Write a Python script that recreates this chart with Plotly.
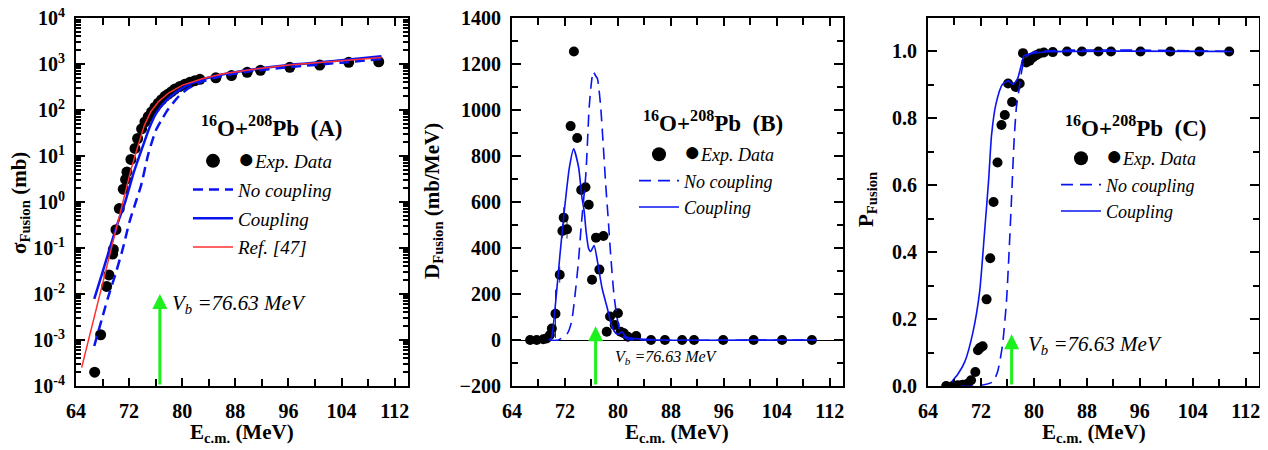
import numpy as np
import plotly.graph_objects as go

# ---------------- data ----------------
Vb = 76.63

# Panel A: fusion cross section (mb)
E_exp_A = [66.81, 67.71, 68.61, 68.96, 69.52, 69.62, 70.02, 70.52, 71.12, 71.47, 71.67,
           72.27, 72.88, 73.28, 73.88, 74.38, 74.88, 75.38, 75.89, 76.39, 76.89, 77.39,
           77.89, 78.39, 78.89, 79.65, 80.40, 81.15, 81.90, 82.66, 85.06, 87.42, 89.78,
           91.78, 96.20, 100.71, 105.07, 109.59]
sig_exp_A = [2.0e-4, 1.3e-3, 0.0146, 0.026, 0.074, 0.093, 0.25, 0.72, 1.9, 3.1, 4.5,
             8.4, 14.6, 24, 39, 55, 72, 91, 115, 141, 167, 198,
             222, 250, 285, 326, 365, 400, 435, 465, 500, 560, 660,
             727, 845, 950, 1085, 1120]

E_nc_A = [66.75, 68.76, 70.02, 71.02, 72.02, 73.0, 73.78, 74.9, 76.0, 77.0, 77.8,
          79.5, 81.0, 82.7, 85.2, 90.0, 96.0, 104.0, 110.0]
sig_nc_A = [7.4e-4, 7.8e-3, 0.0295, 0.093, 0.355, 1.0, 2.24, 11.2, 35.5, 65, 100,
            200, 300, 400, 513, 690, 850, 1070, 1290]

E_c_A = [66.75, 68.0, 69.0, 70.2, 71.4, 72.78, 74.03, 75.03, 76.04, 77.54, 79.04,
         80.55, 83.0, 86.0, 90.0, 96.0, 104.0, 110.0]
sig_c_A = [7.8e-3, 0.030, 0.089, 0.32, 1.0, 4.8, 15.8, 40, 83, 158, 240,
           331, 457, 589, 741, 955, 1202, 1479]

E_ref_A = [64.85, 67.6, 69.3, 71.0, 72.27, 73.28, 74.28, 75.28, 76.54, 78.04, 80.05,
           83.0, 86.0, 90.0, 96.0, 104.0, 110.0]
sig_ref_A = [2.5e-4, 0.01, 0.1, 1.0, 5.0, 15.8, 45.7, 93, 158, 240, 347,
             479, 603, 741, 955, 1175, 1380]

# Panel B: barrier distribution (mb/MeV)
E_exp_B = [66.74, 67.73, 68.73, 69.22, 69.72, 70.02, 70.57, 71.21, 71.61, 71.81, 72.31,
           72.86, 73.35, 73.85, 74.45, 75.10, 75.59, 76.09, 76.69, 77.20, 77.81, 78.31,
           78.81, 79.51, 80.00, 80.40, 80.90, 81.50, 82.76, 85.0, 87.1, 89.7, 91.5,
           95.9, 100.5, 104.8, 109.3]
D_exp_B = [0, 0, 3, 7, 22, 50, 114, 284, 474, 532, 481,
           930, 1254, 878, 652, 664, 588, 262, 445, 306, 452, 36,
           102, 65, 116, 36, 29, 14, 17, 0, 0, 0, 0,
           0, 0, 0, 0]
D_err_B = [0, 0, 0, 0, 0, 0, 105, 35, 30, 45, 40,
           0, 0, 0, 0, 0, 0, 0, 0, 0, 0, 0,
           0, 0, 0, 0, 0, 0, 0, 0, 0, 0, 0,
           0, 0, 0, 0]

E_nc_B = [69.7, 71.0, 72.4, 73.0, 73.5, 74.0, 74.5, 75.16, 75.66, 76.0, 76.26, 76.6,
          76.9, 77.1, 77.4, 77.8, 78.15, 78.5, 78.9, 79.4, 79.8, 80.2, 80.8, 81.5, 83.0, 110.0]
D_nc_B = [0, 0, 30, 80, 190, 330, 510, 722, 1013, 1120, 1167, 1150,
          1137, 1100, 1013, 840, 678, 540, 372, 197, 109, 50, 15, 3, 0, 0]

E_c_B = [69.5, 69.95, 70.2, 70.7, 71.25, 71.9, 72.67, 73.31, 74.06, 74.56, 74.9, 75.2,
         75.6, 75.9, 76.4, 76.9, 77.6, 78.4, 79.1, 79.7, 80.1, 80.6, 81.2, 82.2, 84.2, 86.0, 110.0]
D_c_B = [0, 7, 51, 197, 372, 561, 751, 831, 751, 620, 561, 470,
         395, 385, 411, 343, 226, 138, 58, 29, 25, 36, 14, 7, 3, 0, 0]

# Panel C: fusion probability
E_exp_C = [66.75, 67.75, 68.5, 69.25, 70.0, 70.5, 71.15, 71.55, 71.85, 72.25, 72.85,
           73.4, 73.9, 74.5, 75.1, 75.6, 76.1, 76.7, 77.25, 77.85, 78.35, 78.85,
           79.35, 79.85, 80.35, 80.85, 81.5, 82.85, 85.0, 87.25, 89.75, 91.65,
           96.1, 100.6, 105.0, 109.5]
P_exp_C = [0, 0, 0.002, 0.004, 0.007, 0.017, 0.042, 0.107, 0.114, 0.119, 0.259,
           0.382, 0.55, 0.668, 0.78, 0.81, 0.904, 0.849, 0.894, 0.904, 0.995, 0.967,
           0.972, 0.982, 0.989, 0.994, 0.997, 0.998, 1.0, 1.0, 1.0, 1.0,
           1.0, 1.0, 1.0, 1.0]

E_nc_C = [69.0, 71.3, 73.75, 74.5, 75.25, 75.85, 76.25, 76.6, 77.0, 77.35, 77.75,
          78.25, 78.75, 80.0, 110.0]
P_nc_C = [0, 0, 0.012, 0.042, 0.122, 0.252, 0.402, 0.552, 0.732, 0.832, 0.887,
          0.952, 0.982, 0.998, 1.0]

E_c_C = [67.55, 68.5, 69.55, 70.8, 71.8, 72.55, 73.15, 73.6, 74.25, 75.25, 76.15,
         76.85, 77.5, 78.0, 78.5, 79.25, 82.25, 110.0]
P_c_C = [0.012, 0.035, 0.072, 0.162, 0.282, 0.462, 0.613, 0.75, 0.842, 0.902, 0.912,
         0.902, 0.917, 0.952, 0.987, 0.992, 0.999, 1.0]

arrow_top_A = 1e-2
arrow_top_B = 60
arrow_top_C = 0.155

tickvals_A = [1e-4, 1e-3, 1e-2, 1e-1, 1e0, 1e1, 1e2, 1e3, 1e4]
ticktext_A = ["10<sup>-4</sup>", "10<sup>-3</sup>", "10<sup>-2</sup>", "10<sup>-1</sup>",
              "10<sup>0</sup>", "10<sup>1</sup>", "10<sup>2</sup>", "10<sup>3</sup>",
              "10<sup>4</sup>"]

# ---------------- style ----------------
SERIF = "Liberation Serif"
BLUE = "#0a14f0"
GREEN = "#1ef01e"
RED = "#ff3030"
OFF = 8                      # page body margin of the html page
W, H = 1268 - OFF, 450 - OFF


def px(x):
    return (x - OFF) / W


def py(y):
    return 1 - (y - OFF) / H


fig = go.Figure()


def add_panel(xa, ya, leg, E_exp, Y_exp, E_nc, Y_nc, E_c, Y_c, lw, dash, msize, err=None):
    fig.add_trace(go.Scatter(x=E_exp, y=Y_exp, mode="markers", xaxis=xa, yaxis=ya,
                             marker=dict(color="black", size=msize),
                             error_y=(dict(type="data", array=err, color="#333333",
                                           thickness=1, width=0) if err else None),
                             showlegend=False))
    # legend-only entries
    fig.add_trace(go.Scatter(x=[None], y=[None], mode="markers", xaxis=xa, yaxis=ya,
                             marker=dict(color="black", size=14), legend=leg,
                             legendgroup=leg + "a",
                             name='<span style="font-style:normal;font-size:28px">\u25cf</span>Exp. Data'))
    fig.add_trace(go.Scatter(x=E_nc, y=Y_nc, mode="lines", xaxis=xa, yaxis=ya,
                             line=dict(color=BLUE, width=lw, dash=dash, shape="spline",
                                       smoothing=0.6),
                             name="No coupling", legend=leg, legendgroup=leg + "b"))
    fig.add_trace(go.Scatter(x=E_c, y=Y_c, mode="lines", xaxis=xa, yaxis=ya,
                             line=dict(color=BLUE, width=lw, shape="spline", smoothing=0.6),
                             name="Coupling", legend=leg, legendgroup=leg + "c"))


add_panel("x", "y", "legend", E_exp_A, sig_exp_A, E_nc_A, sig_nc_A, E_c_A, sig_c_A,
          2.5, "10px,6px", 11)
fig.add_trace(go.Scatter(x=E_ref_A, y=sig_ref_A, mode="lines", xaxis="x", yaxis="y",
                         line=dict(color=RED, width=1.5), name="Ref. [47]",
                         legend="legend", legendgroup="legendd"))
add_panel("x2", "y2", "legend2", E_exp_B, D_exp_B, E_nc_B, D_nc_B, E_c_B, D_c_B,
          1.6, "12px,7px", 10, err=D_err_B)
add_panel("x3", "y3", "legend3", E_exp_C, P_exp_C, E_nc_C, P_nc_C, E_c_C, P_c_C,
          1.6, "12px,7px", 10)

tickfont = dict(family=SERIF, size=20, color="black", weight="bold")
ydom = [py(386), py(18)]


def xaxis(l, r, anchor):
    return dict(domain=[px(l), px(r)], anchor=anchor, range=[64, 114], tick0=64, dtick=8,
                ticks="inside", ticklen=8, tickwidth=2, tickcolor="black",
                showline=True, linewidth=2, linecolor="black", mirror="allticks",
                showgrid=False, zeroline=False, tickfont=tickfont, ticklabelstandoff=6,
                automargin=False, ticklabeloverflow="allow",
                minor=dict(tick0=64, dtick=4, ticks="inside", ticklen=7, tickwidth=2,
                           tickcolor="black", showgrid=False))


common_y = dict(domain=ydom, ticks="inside", ticklen=9, tickwidth=2, tickcolor="black",
                showline=True, linewidth=2, linecolor="black", mirror="allticks",
                showgrid=False, tickfont=tickfont, ticklabelstandoff=5, automargin=False,
                ticklabeloverflow="allow")

minor_A = [m * 10.0 ** k for k in range(-4, 4) for m in range(2, 10)]

legfont = dict(family=SERIF, size=19, style="italic", color="black")
fig.update_layout(
    width=W, height=H, margin=dict(l=0, r=0, t=0, b=0, autoexpand=False),
    paper_bgcolor="white", plot_bgcolor="white",
    font=dict(family=SERIF, color="black"),
    xaxis=xaxis(76, 408, "y"),
    xaxis2=xaxis(512, 843, "y2"),
    xaxis3=xaxis(928, 1259, "y3"),
    yaxis=dict(common_y, anchor="x", type="log", range=[-4, 4], tickmode="array",
               tickvals=tickvals_A, ticktext=ticktext_A, zeroline=False,
               minor=dict(tickmode="array", tickvals=minor_A, ticks="inside", ticklen=5,
                          tickwidth=1.5, tickcolor="black", showgrid=False)),
    yaxis2=dict(common_y, anchor="x2", range=[-200, 1400], tick0=0, dtick=200,
                zeroline=True, zerolinecolor="black", zerolinewidth=1,
                minor=dict(dtick=100, ticks="inside", ticklen=6, tickwidth=2,
                           tickcolor="black", showgrid=False)),
    yaxis3=dict(common_y, anchor="x3", range=[0, 1.1], tick0=0, dtick=0.2,
                tickformat=".1f", zeroline=False,
                minor=dict(dtick=0.1, ticks="inside", ticklen=6, tickwidth=2,
                           tickcolor="black", showgrid=False)),
    legend=dict(x=px(188), y=py(142), xanchor="left", yanchor="top", itemwidth=40,
                bgcolor="rgba(0,0,0,0)", tracegroupgap=1, font=legfont),
    legend2=dict(x=px(634), y=py(136), xanchor="left", yanchor="top", itemwidth=40,
                 bgcolor="rgba(0,0,0,0)", tracegroupgap=0,
                 font=dict(legfont, size=18)),
    legend3=dict(x=px(1056), y=py(140), xanchor="left", yanchor="top", itemwidth=40,
                 bgcolor="rgba(0,0,0,0)", tracegroupgap=0,
                 font=dict(legfont, size=18)),
)

title_font = dict(family=SERIF, size=21, color="black", weight="bold")
ann = []
# axis titles
for xc in (242, 677, 1094):
    ann.append(dict(text="E<sub>c.m.</sub> (MeV)", x=px(xc), y=py(433), xref="paper",
                    yref="paper", showarrow=False, font=title_font,
                    xanchor="center", yanchor="middle"))
for xc, yc, t in ((20, 203, "\u03c3<sub>Fusion</sub> (mb)"),
                  (433, 201, "D<sub>Fusion</sub> (mb/MeV)"),
                  (867, 200, "P<sub>Fusion</sub>")):
    ann.append(dict(text=t, x=px(xc), y=py(yc), xref="paper", yref="paper",
                    showarrow=False, textangle=-90, font=title_font,
                    xanchor="center", yanchor="middle"))
# reaction labels
for xc, yc, lab in ((272, 127, "A"), (713, 122, "B"), (1136, 127, "C")):
    ann.append(dict(text="<sup>16</sup>O+<sup>208</sup>Pb  (" + lab + ")", x=px(xc),
                    y=py(yc), xref="paper", yref="paper", showarrow=False,
                    font=dict(family=SERIF, size=23, color="black", weight="bold"),
                    xanchor="center", yanchor="middle"))
# Vb labels
for xl, yc, sz in ((170, 304, 21), (613, 357, 16), (1026, 345, 21)):
    ann.append(dict(text="V<sub>b</sub> =%.2f MeV" % Vb, x=px(xl), y=py(yc),
                    xref="paper", yref="paper", showarrow=False,
                    font=dict(family=SERIF, size=sz, color="black", style="italic"),
                    xanchor="left", yanchor="middle"))
# Vb arrows
ann.append(dict(x=Vb, y=np.log10(arrow_top_A), ax=Vb, ay=-4, xref="x", yref="y",
                axref="x", ayref="y", text="", showarrow=True, arrowhead=2,
                arrowsize=1.0, arrowwidth=3, arrowcolor=GREEN))
ann.append(dict(x=Vb, y=arrow_top_B, ax=Vb, ay=-200, xref="x2", yref="y2",
                axref="x2", ayref="y2", text="", showarrow=True, arrowhead=2,
                arrowsize=1.0, arrowwidth=3, arrowcolor=GREEN))
ann.append(dict(x=Vb, y=arrow_top_C, ax=Vb, ay=0, xref="x3", yref="y3",
                axref="x3", ayref="y3", text="", showarrow=True, arrowhead=2,
                arrowsize=1.0, arrowwidth=3, arrowcolor=GREEN))
fig.update_layout(annotations=ann)

fig.write_html("out.html")
